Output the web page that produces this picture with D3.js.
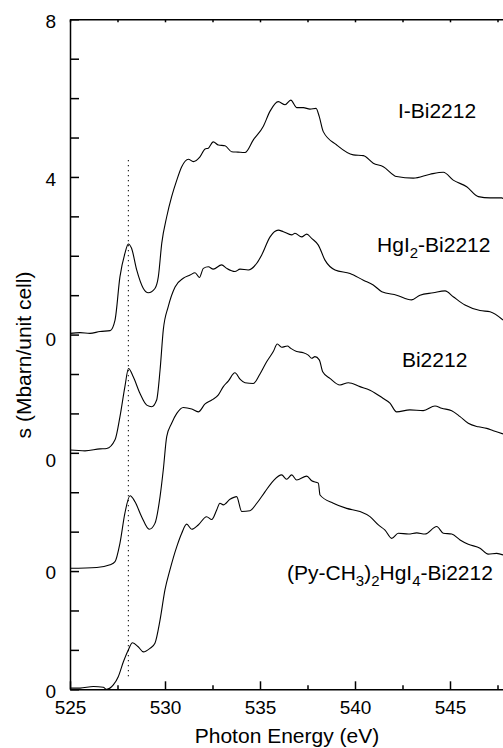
<!DOCTYPE html>
<html>
<head>
<meta charset="utf-8">
<script src="https://cdn.jsdelivr.net/npm/d3@7"></script>
<style>
body { margin: 0; background: #fff; }
svg { display: block; font-family: "Liberation Sans", Arial, sans-serif; }
</style>
</head>
<body>
<div class="container"></div>
<script>
// O K-edge absorption, [photon energy (eV), s (Mbarn/unit cell)] before stacking offset
const iBi2212 = [
  [525, 0.03], [525.53, 0.05], [526.05, 0.03], [526.58, 0.08], [527.11, 0.10], [527.37, 0.37],
  [527.63, 1.47], [527.89, 2.06], [528.07, 2.30], [528.24, 2.19], [528.51, 1.64], [528.86, 1.17],
  [529.12, 1.06], [529.47, 1.17], [529.65, 1.47], [529.83, 2.32], [530.09, 2.99], [530.35, 3.50],
  [530.62, 3.92], [530.88, 4.26], [531.23, 4.45], [531.49, 4.39], [531.84, 4.51], [532.11, 4.71],
  [532.28, 4.73], [532.54, 4.89], [532.81, 4.81], [533.16, 4.79], [533.51, 4.64], [533.84, 4.63],
  [534.21, 4.62], [534.65, 4.94], [535.17, 5.28], [535.53, 5.67], [535.96, 5.91], [536.32, 5.83],
  [536.62, 5.95], [536.93, 5.76], [537.28, 5.76], [537.63, 5.72], [537.95, 5.74], [538.12, 5.53],
  [538.33, 5.15], [539.04, 4.81], [539.91, 4.56], [540.44, 4.54], [540.96, 4.35], [541.49, 4.26],
  [542.19, 4.01], [543.07, 3.97], [543.95, 4.07], [544.65, 4.12], [545.17, 3.92], [545.88, 3.75],
  [546.49, 3.50], [547.11, 3.47], [547.72, 3.47], [547.89, 3.42]
];
const hgI2Bi2212 = [
  [525, 0.07], [525.79, 0.05], [526.58, 0.10], [526.93, 0.11], [527.37, 0.33], [527.63, 0.92],
  [527.89, 1.68], [528.08, 2.14], [528.33, 1.93], [528.68, 1.51], [529.04, 1.21], [529.30, 1.17],
  [529.56, 1.34], [529.74, 2.10], [529.91, 3.12], [530.17, 3.71], [530.53, 4.21], [530.96, 4.43],
  [531.32, 4.51], [531.58, 4.57], [531.81, 4.45], [532.02, 4.68], [532.28, 4.72], [532.54, 4.66],
  [532.98, 4.77], [533.25, 4.68], [533.68, 4.60], [533.95, 4.66], [534.38, 4.64], [534.83, 4.81],
  [535.09, 5.02], [535.53, 5.48], [535.96, 5.65], [536.23, 5.61], [536.67, 5.53], [536.84, 5.57],
  [537.19, 5.48], [537.46, 5.55], [537.72, 5.44], [538.07, 5.27], [538.42, 4.89], [538.95, 4.64],
  [539.74, 4.55], [540.44, 4.38], [540.96, 4.26], [541.41, 4.09], [542.19, 4.00], [542.98, 3.88],
  [543.42, 4.00], [544.12, 4.06], [544.74, 4.11], [545.17, 3.96], [545.79, 3.75], [546.58, 3.61],
  [547.11, 3.58], [547.79, 3.37]
];
const bi2212 = [
  [525, 0.07], [526.41, 0.09], [527.11, 0.16], [527.37, 0.24], [527.63, 0.71], [527.89, 1.47],
  [528.16, 1.91], [528.42, 1.76], [528.77, 1.38], [529.17, 1.06], [529.47, 1.21], [529.74, 1.89],
  [529.91, 2.57], [530.09, 3.41], [530.35, 3.75], [530.62, 4.00], [530.96, 4.15], [531.41, 4.11],
  [531.75, 4.04], [532.11, 4.24], [532.46, 4.34], [532.81, 4.47], [533.07, 4.68], [533.33, 4.82],
  [533.68, 5.03], [533.95, 4.87], [534.21, 4.78], [534.65, 4.76], [535.00, 5.00], [535.35, 5.31],
  [535.70, 5.57], [535.91, 5.76], [536.14, 5.68], [536.44, 5.71], [536.62, 5.65], [536.93, 5.57],
  [537.28, 5.54], [537.54, 5.48], [537.72, 5.40], [537.89, 5.44], [538.12, 5.36], [538.30, 5.06],
  [538.68, 4.89], [539.21, 4.72], [539.65, 4.78], [540.26, 4.68], [540.79, 4.59], [541.49, 4.38],
  [541.84, 4.26], [542.19, 4.04], [542.89, 4.09], [543.59, 4.07], [544.21, 4.19], [544.56, 4.13],
  [545.09, 4.07], [545.53, 3.92], [545.96, 3.75], [546.49, 3.66], [546.93, 3.62], [547.28, 3.56],
  [547.79, 3.48]
];
const pyCH3HgI4Bi2212 = [
  [525, 0.03], [525.53, 0.03], [526.23, 0.07], [526.75, 0.05], [526.93, 0.00], [527.28, 0.11],
  [527.54, 0.32], [527.81, 0.70], [528.07, 1.00], [528.29, 1.18], [528.59, 1.08], [528.86, 0.95],
  [529.21, 1.04], [529.47, 1.17], [529.74, 1.76], [530.00, 2.53], [530.26, 3.03], [530.62, 3.62],
  [530.88, 3.96], [531.14, 4.19], [531.41, 4.06], [531.75, 4.17], [532.19, 4.38], [532.46, 4.31],
  [532.72, 4.55], [532.89, 4.72], [533.07, 4.68], [533.42, 4.82], [533.77, 4.89], [534.04, 4.51],
  [534.47, 4.53], [534.83, 4.72], [535.26, 5.01], [535.70, 5.29], [536.14, 5.44], [536.40, 5.33],
  [536.67, 5.44], [536.93, 5.31], [537.46, 5.41], [537.72, 5.29], [538.07, 5.23], [538.16, 4.93],
  [538.86, 4.72], [539.56, 4.59], [540.26, 4.51], [540.79, 4.38], [541.23, 4.17], [541.58, 4.04],
  [541.93, 3.83], [542.28, 3.96], [542.81, 3.94], [543.25, 3.97], [543.68, 3.94], [544.30, 4.13],
  [544.65, 3.96], [545.09, 3.94], [545.53, 3.79], [545.96, 3.68], [546.58, 3.58], [547.01, 3.43],
  [547.46, 3.45], [547.79, 3.41]
];

const series = [iBi2212, hgI2Bi2212, bi2212, pyCH3HgI4Bi2212];
const offsets = [9, 6, 3, 0];

// curve labels, split into normal / subscript pieces
const seriesLabels = [
  [["I-Bi2212"]],
  [["HgI"], ["2", "sub"], ["-Bi2212"]],
  [["Bi2212"]],
  [["(Py-CH"], ["3", "sub"], [")"], ["2", "sub"], ["HgI"], ["4", "sub"], ["-Bi2212"]]
];
const labelAnchors = [[542.26, 14.5], [541.16, 11.1], [542.47, 8.19], [536.42, 2.77]];

const xMajor = [525, 530, 535, 540, 545];
const xMinor = [527.5, 532.5, 537.5, 542.5, 547.5];
const yTicks = d3.range(0, 18);
const yLabelValues = [17, 13, 9, 6, 3, 0];
const yLabelText = ["8", "4", "0", "0", "0", "0"];
const markerEnergy = 528.07;
const markerSpan = [0.24, 13.43];

const width = 503, height = 748;
const margin = ({ top: 19.3, right: 0, bottom: 58.7, left: 70 });

const x = d3.scaleLinear()
  .domain([525, 550])
  .range([margin.left, margin.left + 25 * 19]);

const y = d3.scaleLinear()
  .domain([0, 17])
  .range([height - margin.bottom, margin.top]);

const svg = d3.select(".container").append("svg")
  .attr("width", width)
  .attr("height", height)
  .attr("viewBox", [0, 0, width, height]);

const styleAxis = g => {
  g.selectAll("path, line").attr("stroke", "#000").attr("stroke-width", 1.5);
  g.selectAll("text").attr("fill", "#000").attr("font-size", 19).attr("font-family", null);
};

// bottom axis
svg.append("g")
  .attr("transform", `translate(0,${y(0)})`)
  .call(d3.axisBottom(x).tickValues(xMajor).tickSizeInner(-8).tickSizeOuter(0).tickPadding(11).tickFormat(d3.format("d")))
  .call(styleAxis);

svg.append("g")
  .attr("transform", `translate(0,${y(0)})`)
  .call(d3.axisBottom(x).tickValues(xMinor).tickSizeInner(-4).tickSizeOuter(0).tickFormat(""))
  .call(styleAxis)
  .call(g => g.select(".domain").remove());

// top axis
svg.append("g")
  .attr("transform", `translate(0,${y(17)})`)
  .call(d3.axisTop(x).tickValues(xMajor.concat(xMinor)).tickSizeInner(-3).tickSizeOuter(0).tickFormat(""))
  .call(styleAxis);

// left axis
svg.append("g")
  .attr("transform", `translate(${x(525)},0)`)
  .call(d3.axisLeft(y).tickValues(yTicks).tickSizeInner(-9).tickSizeOuter(0).tickFormat(""))
  .call(styleAxis);

// stacked tick labels
const labelNudge = [2, 2, 5, 8, 1, 2];
svg.append("g")
  .selectAll("text")
  .data(yLabelValues)
  .join("text")
  .attr("x", x(525) - 14)
  .attr("y", (d, i) => y(d) + labelNudge[i])
  .attr("dy", "0.35em")
  .attr("text-anchor", "end")
  .attr("font-size", 19)
  .text((d, i) => yLabelText[i]);

// marker at the pre-edge peak
svg.append("line")
  .attr("x1", x(markerEnergy)).attr("x2", x(markerEnergy))
  .attr("y1", y(markerSpan[1])).attr("y2", y(markerSpan[0]))
  .attr("stroke", "#000")
  .attr("stroke-width", 1)
  .attr("stroke-dasharray", "1.3,3.7");

// spectra
const line = d3.line()
  .curve(d3.curveMonotoneX)
  .x(d => x(d[0]))
  .y(d => y(d[1]));

svg.append("g")
  .attr("fill", "none")
  .attr("stroke", "#000")
  .attr("stroke-width", 1.1)
  .attr("stroke-linejoin", "round")
  .selectAll("path")
  .data(series)
  .join("path")
  .attr("d", (s, i) => line(s.map(d => [d[0], d[1] + offsets[i]])));

// curve labels
const labels = svg.append("g")
  .attr("font-size", 21)
  .selectAll("text")
  .data(seriesLabels)
  .join("text")
  .attr("x", (d, i) => x(labelAnchors[i][0]))
  .attr("y", (d, i) => y(labelAnchors[i][1]));

labels.each(function(parts) {
  const t = d3.select(this);
  let lowered = false;
  parts.forEach(p => {
    const sp = t.append("tspan").text(p[0]);
    if (p[1] === "sub") {
      sp.attr("font-size", 15).attr("dy", lowered ? 0 : 6);
      lowered = true;
    } else {
      sp.attr("dy", lowered ? -6 : 0);
      lowered = false;
    }
  });
});

// axis titles
svg.append("text")
  .attr("x", x(536.42))
  .attr("y", 743)
  .attr("text-anchor", "middle")
  .attr("font-size", 21)
  .text("Photon Energy (eV)");

svg.append("text")
  .attr("transform", `translate(31,355) rotate(-90)`)
  .attr("text-anchor", "middle")
  .attr("font-size", 21)
  .text("s (Mbarn/unit cell)");
</script>
</body>
</html>
